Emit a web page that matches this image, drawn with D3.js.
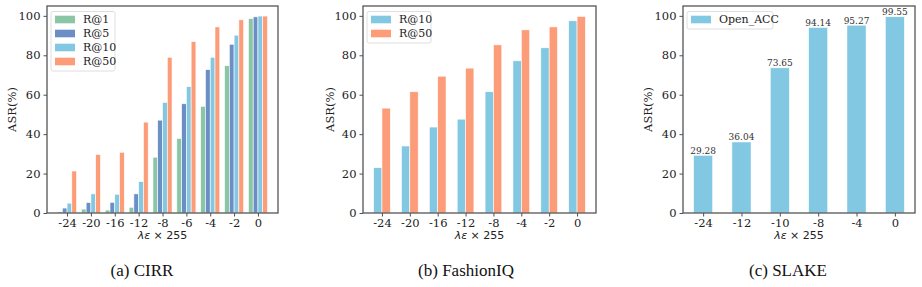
<!DOCTYPE html>
<html>
<head>
<meta charset="utf-8">
<script src="https://cdn.jsdelivr.net/npm/d3@7"></script>
<style>
  body { margin: 0; background: #fff; }
  svg { display: block; }
  .serif { font-family: "DejaVu Serif", serif; }
  .caption { font-family: "Liberation Serif", "Times New Roman", Times, serif; }
</style>
</head>
<body>
<svg id="chart" width="922" height="287"></svg>
<script>
// data
const cirrCategories = ["-24", "-20", "-16", "-12", "-8", "-6", "-4", "-2", "0"];
const cirrR1  = [0.6, 2.0, 1.5, 2.9, 28.3, 37.8, 54.1, 74.7, 98.6];
const cirrR5  = [2.5, 5.3, 5.4, 9.7, 47.1, 55.4, 72.7, 85.6, 99.5];
const cirrR10 = [5.0, 9.7, 9.5, 15.9, 56.1, 64.1, 79.0, 90.2, 99.9];
const cirrR50 = [21.3, 29.7, 30.8, 46.1, 79.0, 86.9, 94.4, 98.0, 99.9];

const fiqCategories = ["-24", "-20", "-16", "-12", "-8", "-4", "-2", "0"];
const fiqR10 = [23.0, 34.0, 43.6, 47.6, 61.5, 77.2, 83.8, 97.5];
const fiqR50 = [53.2, 61.5, 69.4, 73.5, 85.3, 92.9, 94.4, 99.7];

const slakeCategories = ["-24", "-12", "-10", "-8", "-4", "0"];
const slakeOpenAcc = [29.28, 36.04, 73.65, 94.14, 95.27, 99.55];

const yTicks = [0, 20, 40, 60, 80, 100];

const colors = { r1: "#8ac6a6", r5: "#6b8fc4", r10: "#82c8e2", r50: "#fd9c78" };

const svg = d3.select("#chart");

function drawPanel(o) {
  const top = 6, bottom = 213;
  const n = o.series.length, N = o.categories.length;
  const half = n * o.barWidth / 2;
  const margin = 0.05 * ((N - 1) + 2 * half);
  const x = d3.scaleLinear()
    .domain([-half - margin, (N - 1) + half + margin])
    .range([o.left, o.right]);
  const y = d3.scaleLinear().domain([0, 105]).range([bottom, top]);
  const g = svg.append("g");

  // bars
  o.series.forEach((s, k) => {
    const off = (k - (n - 1) / 2) * o.barWidth;
    g.selectAll(null)
      .data(s.values)
      .enter()
      .append("rect")
      .attr("x", (d, i) => x(i + off - o.barWidth / 2))
      .attr("width", x(o.barWidth) - x(0))
      .attr("y", d => y(d))
      .attr("height", d => y(0) - y(d))
      .attr("fill", s.color)
      .attr("stroke", "#fff")
      .attr("stroke-width", 0.6);
  });

  // value labels
  if (o.labels) {
    g.selectAll(null)
      .data(o.series[0].values)
      .enter()
      .append("text")
      .attr("class", "serif")
      .attr("x", (d, i) => x(i))
      .attr("y", d => y(d) - 1.5)
      .attr("text-anchor", "middle")
      .style("font-size", "9px")
      .attr("fill", "#333")
      .text(d => d.toFixed(2));
  }

  // y axis
  const yAxis = d3.axisLeft(y).tickValues(yTicks).tickSize(3.5).tickPadding(3).tickSizeOuter(0);
  const ya = g.append("g").attr("transform", `translate(${o.left},0)`).call(yAxis);
  ya.attr("font-family", null).attr("font-size", null);
  ya.select(".domain").remove();
  ya.selectAll(".tick line").attr("stroke", "#222").attr("stroke-width", 0.8);
  ya.selectAll(".tick text")
    .attr("class", "serif").style("font-size", "11.5px").attr("fill", "#222");

  // x axis
  const xAxis = d3.axisBottom(x)
    .tickValues(d3.range(N))
    .tickFormat(i => o.categories[i])
    .tickSize(3.5).tickPadding(2.5).tickSizeOuter(0);
  const xa = g.append("g").attr("transform", `translate(0,${bottom})`).call(xAxis);
  xa.attr("font-family", null).attr("font-size", null);
  xa.select(".domain").remove();
  xa.selectAll(".tick line").attr("stroke", "#222").attr("stroke-width", 0.8);
  xa.selectAll(".tick text")
    .attr("class", "serif").style("font-size", "11.5px").attr("fill", "#222");

  // frame
  g.append("rect")
    .attr("x", o.left).attr("y", top)
    .attr("width", o.right - o.left).attr("height", bottom - top)
    .attr("fill", "none").attr("stroke", "#555").attr("stroke-width", 1.3);

  // y label
  g.append("text")
    .attr("class", "serif")
    .attr("transform", `translate(${o.ylabelX},${(top + bottom) / 2}) rotate(-90)`)
    .attr("text-anchor", "middle")
    .attr("dy", "0.35em")
    .style("font-size", "11.5px").attr("fill", "#222")
    .text("ASR(%)");

  // x label
  const xl = g.append("text")
    .attr("x", (o.left + o.right) / 2).attr("y", 239)
    .attr("text-anchor", "middle")
    .style("font-family", "'DejaVu Sans', sans-serif").style("font-size", "11px").attr("fill", "#222");
  xl.append("tspan").style("font-style", "italic").text("λε");
  xl.append("tspan").text(" × 255");

  // legend
  const lx = o.left + 4, ly = top + 5.5, rowH = 14;
  g.append("rect")
    .attr("x", lx).attr("y", ly)
    .attr("width", o.legendW).attr("height", n * rowH + 3.5)
    .attr("rx", 2)
    .attr("fill", "#fff").attr("fill-opacity", 0.8)
    .attr("stroke", "#d6d6d6").attr("stroke-width", 0.8);
  o.series.forEach((s, k) => {
    const cy = ly + 8 + k * rowH;
    g.append("rect")
      .attr("x", lx + 4).attr("y", cy - 3.8)
      .attr("width", 20).attr("height", 7.6)
      .attr("fill", s.color);
    g.append("text")
      .attr("class", "serif")
      .attr("x", lx + 32).attr("y", cy).attr("dy", "0.35em")
      .style("font-size", "11px").attr("fill", "#222")
      .text(s.name);
  });

  // caption
  svg.append("text")
    .attr("class", "caption")
    .attr("x", o.captionX).attr("y", 276)
    .attr("text-anchor", "middle")
    .style("font-size", "17px").attr("fill", "#111")
    .text(o.caption);
}

drawPanel({
  left: 47, right: 278, categories: cirrCategories, barWidth: 0.2,
  series: [
    { name: "R@1", values: cirrR1, color: colors.r1 },
    { name: "R@5", values: cirrR5, color: colors.r5 },
    { name: "R@10", values: cirrR10, color: colors.r10 },
    { name: "R@50", values: cirrR50, color: colors.r50 }
  ],
  legendW: 64, ylabelX: 12, caption: "(a) CIRR", captionX: 142
});

drawPanel({
  left: 363, right: 596, categories: fiqCategories, barWidth: 0.3,
  series: [
    { name: "R@10", values: fiqR10, color: colors.r10 },
    { name: "R@50", values: fiqR50, color: colors.r50 }
  ],
  legendW: 64, ylabelX: 330, caption: "(b) FashionIQ", captionX: 466
});

drawPanel({
  left: 683, right: 915, categories: slakeCategories, barWidth: 0.5,
  series: [
    { name: "Open_ACC", values: slakeOpenAcc, color: colors.r10 }
  ],
  legendW: 86, ylabelX: 648, caption: "(c) SLAKE", captionX: 788, labels: true
});
</script>
</body>
</html>
